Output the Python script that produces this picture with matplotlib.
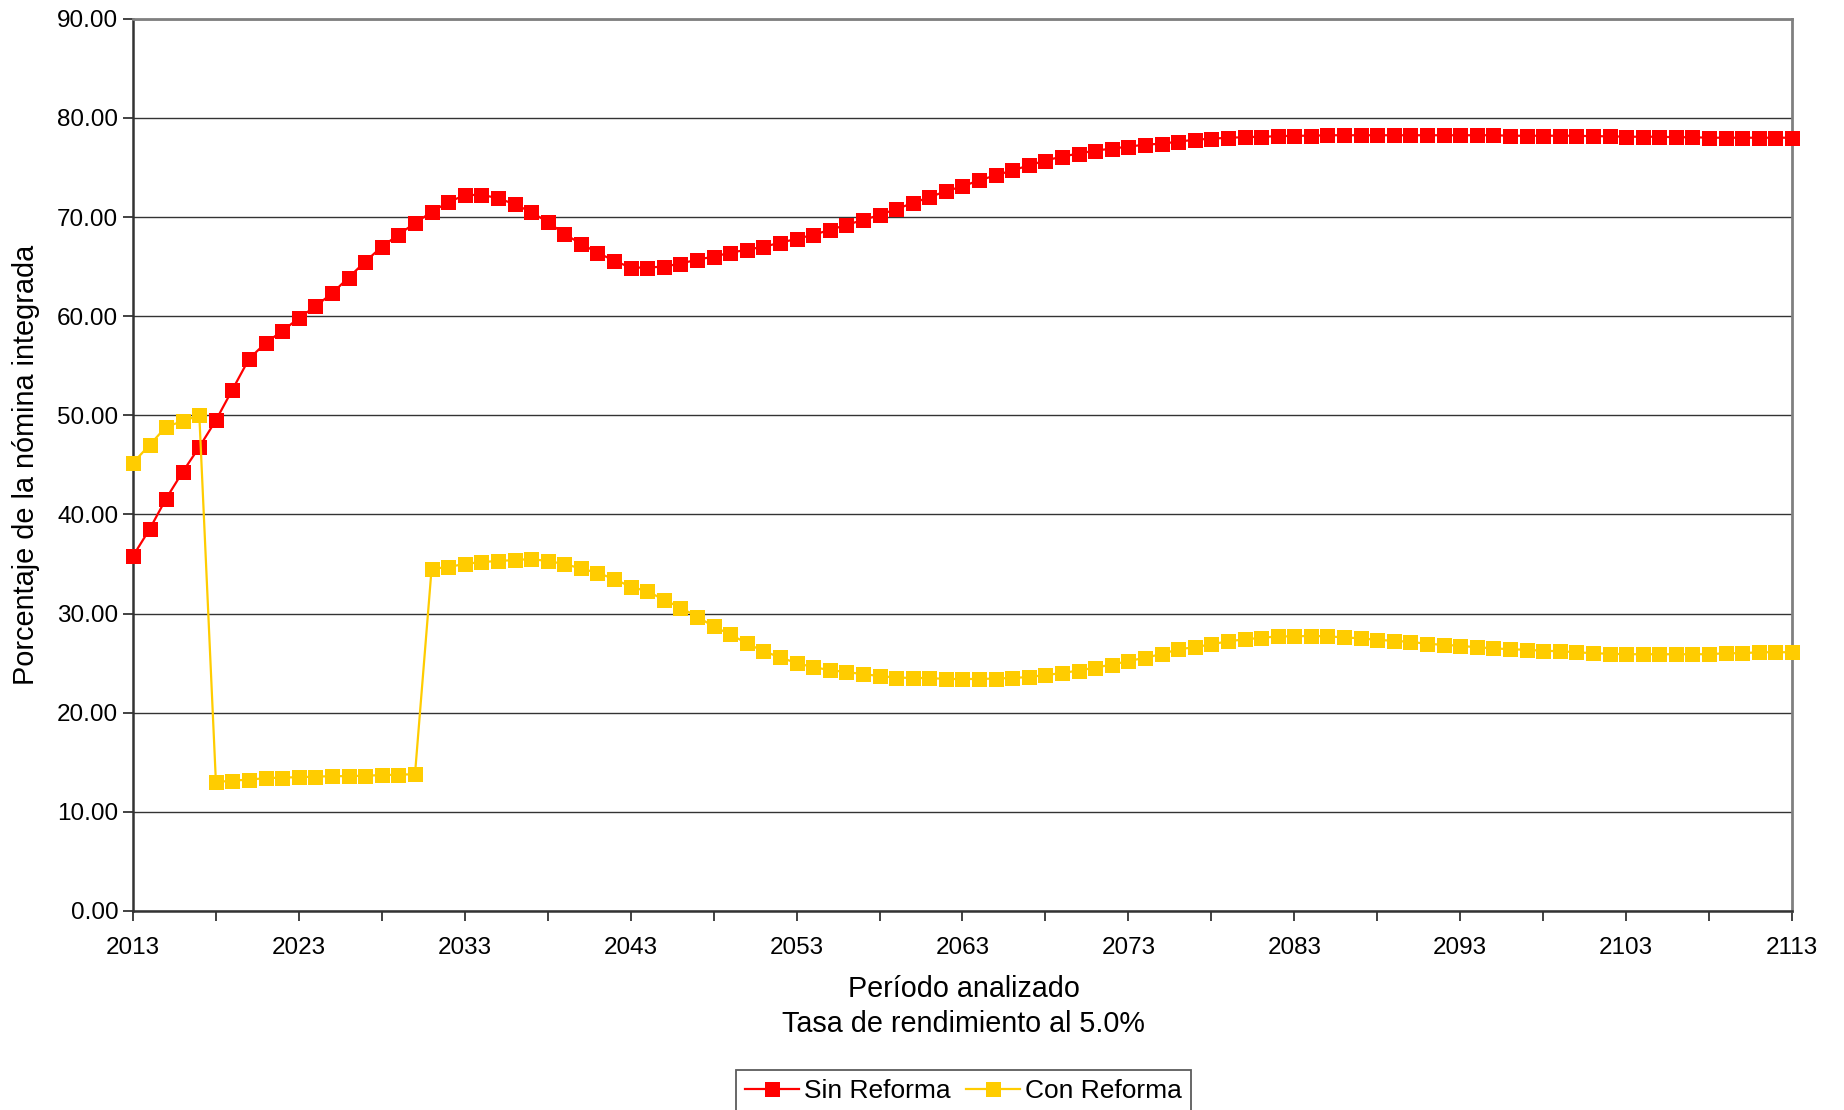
import matplotlib.pyplot as plt
import numpy as np

plt.rcParams['font.family'] = ['Liberation Sans', 'DejaVu Sans']

years = list(range(2013, 2114))

sin_reforma = [
    35.8, 38.5, 41.6, 44.3, 46.8, 49.5, 52.6, 55.7, 57.3, 58.5,
    59.8, 61.0, 62.3, 63.9, 65.5, 67.0, 68.2, 69.4, 70.5, 71.5,
    72.2, 72.25, 71.9, 71.3, 70.5, 69.5, 68.3, 67.3, 66.4, 65.6,
    64.9, 64.9, 65.0, 65.3, 65.7, 66.0, 66.4, 66.7, 67.0, 67.4,
    67.8, 68.2, 68.7, 69.2, 69.7, 70.2, 70.8, 71.4, 72.0, 72.6,
    73.1, 73.7, 74.2, 74.7, 75.2, 75.7, 76.1, 76.4, 76.7, 76.9,
    77.1, 77.3, 77.4, 77.6, 77.8, 77.9, 78.0, 78.05, 78.1, 78.15,
    78.2, 78.2, 78.25, 78.25, 78.25, 78.25, 78.25, 78.25, 78.25, 78.25,
    78.25, 78.25, 78.25, 78.2, 78.2, 78.2, 78.2, 78.2, 78.15, 78.15,
    78.1, 78.1, 78.1, 78.05, 78.05, 78.0, 78.0, 78.0, 78.0, 78.0,
    78.0,
]

con_reforma = [
    45.2, 47.0, 48.85, 49.4, 50.0, 13.0, 13.15, 13.25, 13.4, 13.45,
    13.5, 13.55, 13.6, 13.6, 13.65, 13.7, 13.75, 13.8, 34.5, 34.7,
    35.0, 35.2, 35.3, 35.4, 35.5, 35.3, 35.0, 34.55, 34.1, 33.5,
    32.7, 32.25, 31.4, 30.6, 29.7, 28.7, 27.9, 27.0, 26.2, 25.6,
    25.0, 24.6, 24.3, 24.1, 23.9, 23.7, 23.55, 23.5, 23.5, 23.4,
    23.4, 23.4, 23.45, 23.5, 23.6, 23.8, 24.0, 24.25, 24.55, 24.85,
    25.2, 25.55, 25.9, 26.4, 26.6, 26.9, 27.2, 27.4, 27.55, 27.7,
    27.7, 27.75, 27.7, 27.6, 27.5, 27.35, 27.25, 27.15, 26.95, 26.85,
    26.75, 26.6, 26.5, 26.4, 26.35, 26.25, 26.2, 26.1, 26.0, 25.95,
    25.9, 25.9, 25.9, 25.9, 25.9, 25.9, 26.0, 26.0, 26.1, 26.1,
    26.1,
]

fig = plt.figure(figsize=(18.44, 11.10), dpi=100)
ax = fig.add_axes([0.0721, 0.1793, 0.8997, 0.8038])

ax.set_ylim(0, 90)
ax.set_xlim(2013, 2113)
ax.set_yticks(np.arange(0, 91, 10))
ax.set_yticklabels([f"{v:.2f}" for v in range(0, 91, 10)])
ax.set_xticks(range(2013, 2114, 10))
ax.set_xticks(range(2013, 2114, 5), minor=True)
ax.yaxis.grid(True, color='#333333', linewidth=1.0)
ax.set_axisbelow(True)

ax.plot(years, sin_reforma, color='#FF0000', linewidth=1.6, marker='s',
        markersize=10.8, markeredgewidth=0, label='Sin Reforma', clip_on=False, zorder=3)
ax.plot(years, con_reforma, color='#FFCC00', linewidth=1.6, marker='s',
        markersize=10.8, markeredgewidth=0, label='Con Reforma', clip_on=False, zorder=3)

for s in ['left', 'bottom']:
    ax.spines[s].set_color('#333333')
    ax.spines[s].set_linewidth(1.8)
for s in ['top', 'right']:
    ax.spines[s].set_color('#808080')
    ax.spines[s].set_linewidth(2)

ax.tick_params(axis='both', which='both', direction='out', length=7, width=1.3,
               color='#333333', labelsize=17.5)
ax.tick_params(axis='x', which='major', pad=12)
ax.tick_params(axis='x', which='minor', labelbottom=False)

cx = 0.5225
fig.text(26 / 1844, 1 - 465 / 1110, 'Porcentaje de la nómina integrada',
         rotation=90, ha='center', va='center', fontsize=20.8)
fig.text(cx, 1 - 989 / 1110, 'Período analizado', ha='center', va='center', fontsize=20.7)
fig.text(cx, 1 - 1024 / 1110, 'Tasa de rendimiento al 5.0%', ha='center', va='center', fontsize=20.7)

leg = fig.legend(loc='upper center', bbox_to_anchor=(cx, 1 - 1070 / 1110), ncol=2,
                 fontsize=19, frameon=True, fancybox=False, edgecolor='#333333',
                 handlelength=2.05, columnspacing=0.55, handletextpad=0.2,
                 borderpad=0.35, borderaxespad=0)
leg.get_frame().set_linewidth(1.3)

fig.savefig('out.png', dpi=100)
